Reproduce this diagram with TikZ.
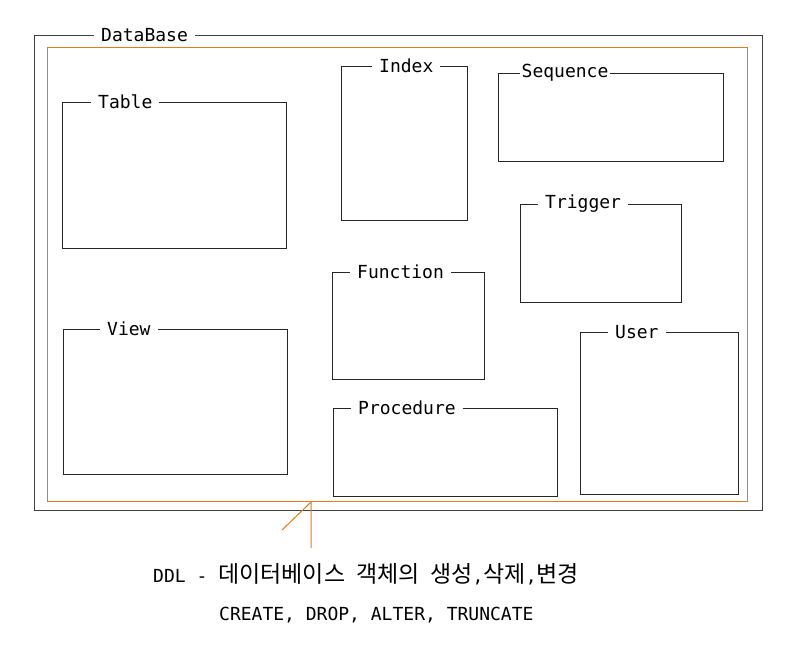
\documentclass[tikz,border=0pt]{standalone}
\usepackage{fontspec}
\setmonofont{DejaVu Sans Mono}
\newfontfamily\kr{Noto Sans CJK KR}
\usetikzlibrary{positioning}
\definecolor{dborange}{HTML}{E37A20}
\newcommand{\hg}[1]{{\kr\fontsize{23}{26}\selectfont #1}}
\tikzset{
	obj/.style = {draw = black!85, line width = 0.8pt, anchor = north west, inner sep = 0pt},
	tag/.style = {fill = white, inner xsep = 7pt, inner ysep = 1pt, font = \ttfamily\fontsize{18}{21}\selectfont},
	note/.style = {inner sep = 0pt, anchor = west, font = \ttfamily\fontsize{18}{21}\selectfont},
	callout/.style = {draw = dborange, line width = 1pt}
}
\begin{document}
\begin{tikzpicture}[x = 1pt, y = -1pt]
		\useasboundingbox (0,0) rectangle (785,670);
		\node[obj, draw = black!75, minimum width = 728pt, minimum height = 475pt] (DB) at (34,35) {};
		\node[obj, draw = dborange, line width = 1pt, minimum width = 700pt, minimum height = 454pt] (Inner) at (47,47) {};
		\node[tag, right = 60pt of DB.north west] (DBTag) {DataBase};
		\node[obj, minimum width = 224pt, minimum height = 146pt] (Table) at (62,102) {};
		\node[obj, minimum width = 126pt, minimum height = 154pt] (Index) at (341,66) {};
		\node[obj, minimum width = 225pt, minimum height = 88pt] (Sequence) at (498,73) {};
		\node[obj, minimum width = 161pt, minimum height = 98pt] (Trigger) at (520,204) {};
		\node[obj, minimum width = 152pt, minimum height = 107pt] (Function) at (332,272) {};
		\node[obj, minimum width = 224pt, minimum height = 145pt] (View) at (63,329) {};
		\node[obj, minimum width = 158pt, minimum height = 162pt] (User) at (580,332) {};
		\node[obj, minimum width = 224pt, minimum height = 88pt] (Procedure) at (333,408) {};
		\node[tag, right = 29pt of Table.north west] (TableTag) {Table};
		\node[tag, right = 31pt of Index.north west] (IndexTag) {Index};
		\node[tag, inner xsep = 1.5pt, right = 22pt of Sequence.north west] (SequenceTag) {Sequence};
		\node[tag, right = 18pt of Trigger.north west] (TriggerTag) {Trigger};
		\node[tag, right = 18pt of Function.north west] (FunctionTag) {Function};
		\node[tag, right = 37pt of View.north west] (ViewTag) {View};
		\node[tag, right = 28pt of User.north west] (UserTag) {User};
		\node[tag, right = 18pt of Procedure.north west] (ProcedureTag) {Procedure};
		\coordinate (c1) at (311,548);
		\coordinate (c2) at (282,530);
		\draw[callout] (c1) -- (c1 |- Inner.south) -- (c2);
		\node[note] (DDL) at (153,574) {DDL - \hg{데이터베이스} \hg{객체의} \hg{생성},\hg{삭제},\hg{변경}};
		\node[note] (Cmds) at (219,615) {CREATE, DROP, ALTER, TRUNCATE};
	\end{tikzpicture}
\end{document}
